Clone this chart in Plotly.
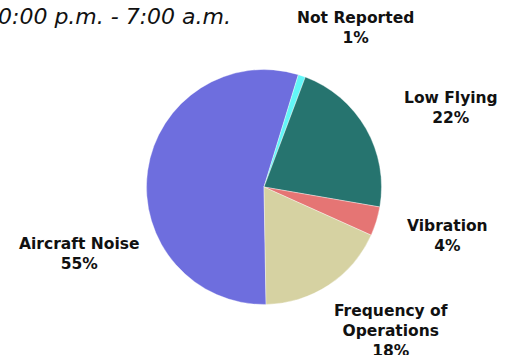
import plotly.graph_objects as go

# Complaint categories (clockwise from the bottom of the pie)
categories = ["Aircraft Noise", "Not Reported", "Low Flying", "Vibration", "Frequency of<br>Operations"]
shares = [55, 1, 22, 4, 18]
slice_colors = ["#6e6ede", "#62f6f8", "#26746f", "#e57574", "#d6d2a2"]

title_text = "10:00 p.m. - 7:00 a.m."

# label anchor points in pixels (centre of each text block)
label_pos = {
    "Aircraft Noise": (79, 254),
    "Not Reported": (355, 28),
    "Low Flying": (451, 108),
    "Vibration": (447, 236),
    "Frequency of<br>Operations": (391, 331),
}

W, H = 512, 355
cx, cy, r = 264, 187, 117.5

fig = go.Figure()
fig.add_trace(go.Pie(
    labels=categories,
    values=shares,
    sort=False,
    direction="clockwise",
    rotation=179,
    textinfo="none",
    hoverinfo="label+percent",
    marker=dict(colors=slice_colors, line=dict(color="rgba(255,255,255,0.6)", width=0.6)),
    domain=dict(x=[(cx - r) / W, (cx + r) / W], y=[(H - cy - r) / H, (H - cy + r) / H]),
    showlegend=False,
))

total = sum(shares)
for cat, val in zip(categories, shares):
    px, py = label_pos[cat]
    fig.add_annotation(
        x=px / W, y=1 - py / H, xref="paper", yref="paper",
        text=f"{cat}<br>{round(100 * val / total)}%",
        showarrow=False, xanchor="center", yanchor="middle", align="center",
        font=dict(family="DejaVu Sans", size=15.5, color="#111111", weight="bold"),
    )

fig.add_annotation(
    x=233 / W, y=1 - 16 / H, xref="paper", yref="paper",
    text=f"<i>{title_text}</i>", showarrow=False,
    xanchor="right", yanchor="middle",
    font=dict(family="DejaVu Sans", size=22, color="#111111"),
)

fig.update_layout(
    width=W, height=H,
    margin=dict(l=0, r=0, t=0, b=0),
    paper_bgcolor="white", plot_bgcolor="white",
)

fig.write_html("out.html")
